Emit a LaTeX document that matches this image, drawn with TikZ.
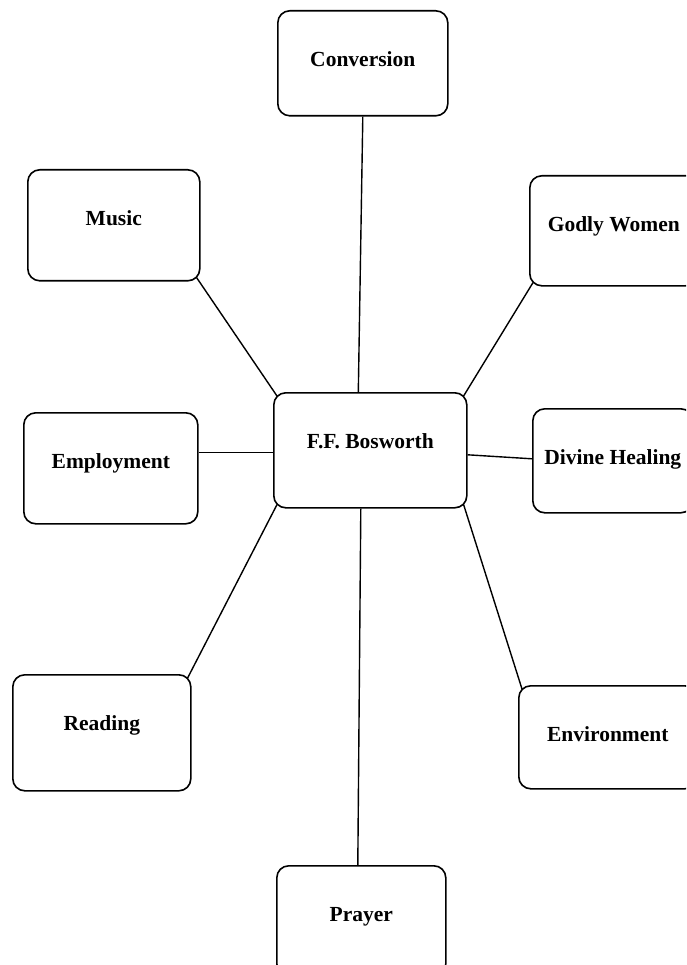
\documentclass[tikz,border=0pt]{standalone}
\usepackage{fontspec}
\setmainfont{Liberation Serif}
\begin{document}
\begin{tikzpicture}[x=1pt,y=-1pt,
	topic/.style={draw,line width=1.6pt,rounded corners=12pt,anchor=north west,
		inner xsep=0pt,inner ysep=0pt,text height=56pt,text depth=54pt,
		font=\fontsize{21.5}{26}\selectfont\bfseries},
	link/.style={line width=1.4pt}]
	\clip (0,0) rectangle (686,965);
	
	% centre
	\node[topic,minimum width=193pt,text depth=59pt] (bos) at (273,392) {F.F. Bosworth};
	
	% left
	\node[topic,minimum width=172pt,text depth=55pt] (music) at (27,169) {Music};
	\node[topic,minimum width=174pt,text depth=55pt] (emp) at (23,412) {Employment};
	\node[topic,minimum width=178pt,text depth=60pt] (read) at (12,674) {Reading};
	
	% middle
	\node[topic,minimum width=170pt,text depth=49pt] (conv) at (277,10) {Conversion};
	\node[topic,minimum width=169pt] (pray) at (276,865) {Prayer};
	
	% right
	\node[topic,minimum width=168pt] (godly) at (529,175) {Godly Women};
	\node[topic,minimum width=160pt,text depth=48pt] (heal) at (532,408) {Divine Healing};
	\node[topic,minimum width=178pt,text depth=47pt] (env) at (518,685) {Environment};
	
	% links
	\coordinate (E) at ([yshift=16pt]emp.east);
	
	\draw[link] (conv.south) -- ([xshift=-12pt]bos.north);
	\draw[link] ([shift={(-4pt,4pt)}]music.south east) -- ([shift={(4pt,-4pt)}]bos.north west);
	\draw[link] ([shift={(4pt,4pt)}]godly.south west) -- ([shift={(-4pt,-4pt)}]bos.north east);
	\draw[link] (E) -- (E -| bos.west);
	\draw[link] ([yshift=-4.5pt]bos.east) -- ([yshift=2pt]heal.west);
	\draw[link] ([shift={(-4pt,-4pt)}]read.north east) -- ([shift={(4pt,4pt)}]bos.south west);
	\draw[link] ([shift={(4pt,-4pt)}]env.north west) -- ([shift={(-4pt,4pt)}]bos.south east);
	\draw[link] ([xshift=-9.5pt]bos.south) -- ([xshift=-3.5pt]pray.north);
\end{tikzpicture}
\end{document}
